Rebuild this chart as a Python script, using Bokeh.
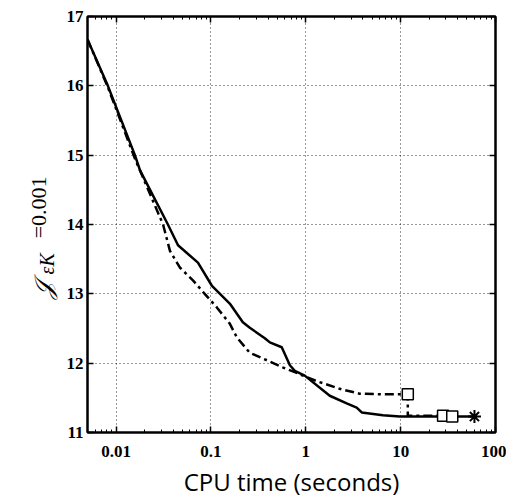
import math
from bokeh.plotting import figure
from bokeh.layouts import row
from bokeh.models import LogAxis, LinearAxis, Label, CustomJSTickFormatter, FixedTicker, Range1d
from bokeh.embed import file_html
from bokeh.resources import INLINE

# ---- data ----
solid_x = [0.005, 0.0082, 0.0158, 0.0179, 0.0352, 0.045, 0.073, 0.102, 0.158, 0.217,
           0.257, 0.37, 0.418, 0.558, 0.68, 0.766, 0.975, 1.79, 2.7, 3.44, 3.89, 6.5,
           9.8, 35, 60]
solid_y = [16.67, 16.0, 15.0, 14.78, 14.0, 13.70, 13.45, 13.12, 12.86, 12.59,
           12.51, 12.36, 12.30, 12.23, 11.97, 11.89, 11.82, 11.53, 11.42, 11.36, 11.29, 11.25,
           11.23, 11.23, 11.23]

dash_x = [0.005, 0.0082, 0.0158, 0.0313, 0.037, 0.047, 0.065, 0.086, 0.116, 0.158,
          0.188, 0.257, 0.35, 0.57, 0.766, 0.975, 1.31, 2.28, 3.7, 6.5, 11.9, 11.9, 28]
dash_y = [16.67, 15.98, 14.95, 14.0, 13.62, 13.38, 13.19, 13.0, 12.80, 12.57,
          12.37, 12.15, 12.07, 11.94, 11.87, 11.81, 11.74, 11.63, 11.56, 11.55, 11.55, 11.24, 11.24]

square_x = [11.9, 28, 35]
square_y = [11.55, 11.24, 11.23]
star_x = [60]
star_y = [11.23]

x_ticks = [0.01, 0.1, 1, 10, 100]
x_tick_labels = {0.01: "0.01", 0.1: "0.1", 1: "1", 10: "10", 100: "100"}
y_ticks = [11, 12, 13, 14, 15, 16, 17]
x_minor = [k * 10 ** e for e in range(-3, 2) for k in range(2, 10)]

H = 500
LW = 60           # width of the strip holding the y-axis label
W = 506 - LW
BL, BB, BT = 87 - LW, 68, 16

y_range = Range1d(11, 17)
p = figure(width=W, height=H, x_axis_type="log", x_range=(0.005, 100), y_range=y_range,
           output_backend="svg", toolbar_location=None,
           min_border_left=BL, min_border_right=11, min_border_top=BT, min_border_bottom=BB)
p.background_fill_color = "white"
p.border_fill_color = "white"
p.outline_line_color = "black"
p.outline_line_width = 2

tick_font = "Liberation Serif"

xa = p.xaxis[0]
xa.ticker = FixedTicker(ticks=x_ticks, minor_ticks=x_minor)
xa.major_label_overrides = x_tick_labels
xa.axis_label = "CPU time (seconds)"
xa.axis_label_text_font = "Open Sans"
xa.axis_label_text_font_size = "24px"
xa.axis_label_text_font_style = "normal"
xa.axis_label_text_color = "black"
xa.axis_label_standoff = 5
ya = p.yaxis[0]
ya.ticker = FixedTicker(ticks=y_ticks)
for ax in (xa, ya):
    ax.major_label_text_font = tick_font
    ax.major_label_text_font_size = "17px"
    ax.major_label_text_font_style = "bold"
    ax.major_label_text_color = "black"
    ax.axis_line_color = "black"
    ax.axis_line_width = 2
    ax.major_tick_in = 6
    ax.major_tick_out = 0
    ax.major_tick_line_color = "black"
    ax.major_tick_line_width = 1.5
    ax.minor_tick_in = 3
    ax.minor_tick_out = 0
    ax.minor_tick_line_color = "black"
ya.minor_tick_line_color = None
xa.major_label_standoff = 13
ya.major_label_standoff = 4

blank = CustomJSTickFormatter(code="return ''")
top = LogAxis(ticker=FixedTicker(ticks=x_ticks, minor_ticks=x_minor),
              formatter=blank, major_tick_in=6, major_tick_out=0, minor_tick_in=3, minor_tick_out=0,
              major_label_standoff=0, axis_line_width=2, major_tick_line_width=1.5)
right = LinearAxis(ticker=FixedTicker(ticks=y_ticks), formatter=blank, major_tick_in=6, major_tick_out=0,
                   minor_tick_line_color=None, major_label_standoff=0, axis_line_width=2,
                   major_tick_line_width=1.5)
p.add_layout(top, "above")
p.add_layout(right, "right")

for g in (p.xgrid[0], p.ygrid[0]):
    g.grid_line_color = "black"
    g.grid_line_dash = "1 3"
    g.grid_line_width = 1
    g.grid_line_alpha = 0.8
p.xgrid[0].ticker = FixedTicker(ticks=x_ticks)
p.ygrid[0].ticker = FixedTicker(ticks=y_ticks)

p.line(dash_x, dash_y, line_color="black", line_width=2.5, line_dash="9 4 3 4")
p.line(solid_x, solid_y, line_color="black", line_width=2.5)
p.scatter(square_x, square_y, marker="square", size=11, fill_color="white", line_color="black", line_width=1.5)
p.scatter(star_x, star_y, marker="asterisk", size=13, line_color="black", line_width=2)

# ---- strip on the left holding the y-axis label (script J, subscript epsilon_K, =0.001) ----
# same vertical borders and y range as the chart, so label positions use the chart's y scale
lab = figure(width=LW, height=H, x_range=Range1d(0, LW), y_range=y_range,
             x_axis_type=None, y_axis_type=None, output_backend="svg", toolbar_location=None,
             min_border=0, min_border_left=0, min_border_right=0, min_border_top=BT, min_border_bottom=BB)
lab.outline_line_color = None
lab.background_fill_color = "white"
lab.border_fill_color = "white"
lab.xgrid.visible = False
lab.ygrid.visible = False

def ylab(text, cx, start_y, size, style, font):
    lab.add_layout(Label(x=cx, y=start_y, text=text, angle=math.pi / 2, text_align="left",
                         text_baseline="middle", text_font=font, text_font_size=size,
                         text_font_style=style, text_color="black"))

ylab("𝒥", 43, 12.92, "25px", "italic", "DejaVu Serif")
ylab("εK", 46, 13.28, "20px", "italic", "Liberation Serif")
ylab("=0.001", 38, 13.80, "22px", "normal", "Liberation Serif")

layout = row(lab, p)
open("out.html", "w").write(file_html(layout, INLINE))
